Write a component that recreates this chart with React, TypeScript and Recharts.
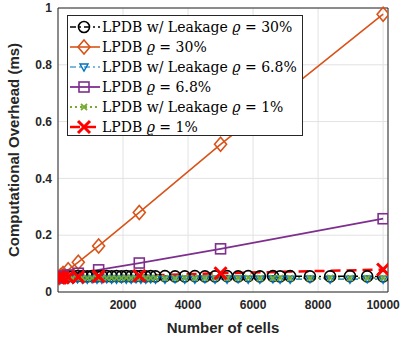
import React from "react";
import { ComposedChart, Line, XAxis, YAxis, CartesianGrid, ReferenceLine } from "recharts";

// LPDB runs: doubling grid of cell counts
const cells = [20, 39, 78, 156, 313, 625, 1250, 2500, 5000, 10000];
const lpdb30 = [0.05, 0.052, 0.057, 0.065, 0.078, 0.105, 0.162, 0.28, 0.52, 0.978];
const lpdb68 = [0.05, 0.051, 0.053, 0.056, 0.06, 0.066, 0.078, 0.102, 0.152, 0.258];
const lpdb1 = [0.05, 0.05, 0.05, 0.051, 0.052, 0.053, 0.055, 0.057, 0.066, 0.079];

// runs with leakage
const leakCells = [
  10, 20, 40, 80, 160, 300, 450, 600, 750, 900, 1050, 1200, 1350, 1500, 1650, 1800, 1950, 2100, 2250, 2400, 2550,
  2700, 2850, 3000, 3290, 3600, 3900, 4210, 4520, 4830, 5200, 5540, 5850, 6210, 6610, 6830, 7140, 7750, 8370, 8980,
  9510, 10000,
];
const leak30 = [
  0.054, 0.055, 0.055, 0.056, 0.055, 0.056, 0.055, 0.056, 0.056, 0.055, 0.056, 0.055, 0.056, 0.056, 0.055, 0.056,
  0.055, 0.056, 0.055, 0.056, 0.056, 0.055, 0.056, 0.055, 0.056, 0.055, 0.055, 0.056, 0.055, 0.055, 0.056, 0.055,
  0.056, 0.055, 0.056, 0.055, 0.056, 0.055, 0.055, 0.056, 0.055, 0.055,
];
const leak68 = [
  0.045, 0.045, 0.046, 0.045, 0.046, 0.045, 0.045, 0.046, 0.045, 0.045, 0.046, 0.045, 0.045, 0.046, 0.045, 0.045,
  0.046, 0.045, 0.045, 0.046, 0.045, 0.045, 0.046, 0.045, 0.045, 0.046, 0.045, 0.045, 0.046, 0.045, 0.045, 0.046,
  0.045, 0.045, 0.046, 0.045, 0.045, 0.046, 0.045, 0.045, 0.046, 0.045,
];
const leak1 = [
  0.049, 0.049, 0.05, 0.049, 0.049, 0.05, 0.049, 0.049, 0.05, 0.049, 0.049, 0.05, 0.049, 0.049, 0.05, 0.049,
  0.049, 0.05, 0.049, 0.049, 0.05, 0.049, 0.049, 0.05, 0.049, 0.049, 0.05, 0.049, 0.049, 0.05, 0.049, 0.049,
  0.05, 0.049, 0.049, 0.05, 0.049, 0.049, 0.05, 0.049, 0.049, 0.05,
];

const xTicks = [2000, 4000, 6000, 8000, 10000];
const yTicks = [0, 0.2, 0.4, 0.6, 0.8, 1];

const zip = (xs: number[], ys: number[]) => xs.map((x, i) => ({ x, y: ys[i] }));

const BLACK = "#000000";
const ORANGE = "#D95319";
const BLUE = "#0072BD";
const PURPLE = "#7E2F8E";
const GREEN = "#77AC30";
const RED = "#FF0000";

type Mk = "circle" | "diamond" | "tri" | "square" | "x" | "bigx";

const marker = (kind: Mk, cx: number, cy: number, key?: React.Key) => {
  switch (kind) {
    case "circle":
      return <circle key={key} cx={cx} cy={cy} r={5.5} fill="none" stroke={BLACK} strokeWidth={1.6} />;
    case "diamond":
      return (
        <polygon
          key={key}
          points={`${cx},${cy - 7} ${cx + 6},${cy} ${cx},${cy + 7} ${cx - 6},${cy}`}
          fill="none"
          stroke={ORANGE}
          strokeWidth={1.6}
        />
      );
    case "tri":
      return (
        <polygon
          key={key}
          points={`${cx - 4},${cy - 3} ${cx + 4},${cy - 3} ${cx},${cy + 4}`}
          fill="none"
          stroke={BLUE}
          strokeWidth={1.4}
        />
      );
    case "square":
      return (
        <rect key={key} x={cx - 5} y={cy - 5} width={10} height={10} fill="none" stroke={PURPLE} strokeWidth={1.6} />
      );
    case "x":
      return (
        <g key={key} stroke={GREEN} strokeWidth={1.8}>
          <line x1={cx - 3} y1={cy - 3} x2={cx + 3} y2={cy + 3} />
          <line x1={cx - 3} y1={cy + 3} x2={cx + 3} y2={cy - 3} />
        </g>
      );
    default:
      return (
        <g key={key} stroke={RED} strokeWidth={3}>
          <line x1={cx - 6} y1={cy - 6} x2={cx + 6} y2={cy + 6} />
          <line x1={cx - 6} y1={cy + 6} x2={cx + 6} y2={cy - 6} />
        </g>
      );
  }
};

const dotOf = (kind: Mk) => (p: any) => {
  if (p.cx == null || p.cy == null) return <g key={p.index} />;
  return marker(kind, p.cx, p.cy, p.index);
};

const series = [
  { name: "w30", label: "LPDB w/ Leakage", pct: "30%", data: zip(leakCells, leak30), color: BLACK, dash: "6 3 2 3", w: 1.5, mk: "circle" as Mk },
  { name: "l30", label: "LPDB", pct: "30%", data: zip(cells, lpdb30), color: ORANGE, dash: undefined, w: 1.6, mk: "diamond" as Mk },
  { name: "w68", label: "LPDB w/ Leakage", pct: "6.8%", data: zip(leakCells, leak68), color: BLUE, dash: "6 3 2 3", w: 1.2, mk: "tri" as Mk },
  { name: "l68", label: "LPDB", pct: "6.8%", data: zip(cells, lpdb68), color: PURPLE, dash: undefined, w: 1.8, mk: "square" as Mk },
  { name: "w1", label: "LPDB w/ Leakage", pct: "1%", data: zip(leakCells, leak1), color: GREEN, dash: "2 3", w: 2, mk: "x" as Mk },
  { name: "l1", label: "LPDB", pct: "1%", data: zip(cells, lpdb1), color: RED, dash: "10 6", w: 2.5, mk: "bigx" as Mk },
];

const SANS = "'Liberation Sans', Arial, sans-serif";
const tickStyle = { fontSize: 12, fontWeight: 700, fill: "#262626", fontFamily: SANS };
const labelStyle = { fontSize: 15, fontWeight: 700, fill: "#262626", fontFamily: SANS };

const LegendBox = () => (
  <div
    style={{
      position: "absolute",
      left: 67,
      top: 15,
      width: 236,
      height: 121,
      boxSizing: "border-box",
      border: "1px solid #262626",
      background: "#fff",
      fontFamily: "'DejaVu Serif', 'Liberation Serif', serif",
      fontSize: 14,
      color: "#000",
    }}
  >
    {series.map((s, i) => (
      <div key={s.name} style={{ position: "absolute", left: 0, top: i * 20 + 0.5, height: 20, display: "flex", alignItems: "center" }}>
        <svg width={34} height={20} style={{ display: "block" }}>
          <line x1={2} y1={10} x2={32} y2={10} stroke={s.color} strokeWidth={s.w} strokeDasharray={s.dash} />
          {marker(s.mk, 16, 10)}
        </svg>
        <span style={{ whiteSpace: "nowrap" }}>
          {s.label} <i>ϱ</i> = {s.pct}
        </span>
      </div>
    ))}
  </div>
);

export default function App() {
  return (
    <div style={{ position: "absolute", left: 0, top: 0, width: 407, height: 340, background: "#fff" }}>
      <ComposedChart width={407} height={340} margin={{ top: 8, right: 19, bottom: 0, left: 0 }}>
        <CartesianGrid stroke="#e2e2e2" />
        <XAxis
          type="number"
          dataKey="x"
          domain={[0, 10150]}
          ticks={xTicks}
          allowDataOverflow
          height={48}
          tick={tickStyle}
          tickLine={false}
          axisLine={{ stroke: "#262626" }}
          label={{ value: "Number of cells", position: "insideBottom", offset: 7, style: labelStyle }}
        />
        <YAxis
          type="number"
          domain={[0, 1]}
          ticks={yTicks}
          width={58}
          tick={tickStyle}
          tickLine={false}
          tickMargin={0}
          axisLine={{ stroke: "#262626" }}
          label={{
            value: "Computational Overhead (ms)",
            angle: -90,
            position: "insideLeft",
            offset: 14,
            style: { ...labelStyle, textAnchor: "middle" },
          }}
        />
        <ReferenceLine y={1} stroke="#262626" />
        <ReferenceLine x={10150} stroke="#262626" />
        {series.map((s) => (
          <Line
            key={s.name}
            data={s.data}
            dataKey="y"
            type="linear"
            stroke={s.color}
            strokeWidth={s.w}
            strokeDasharray={s.dash}
            dot={dotOf(s.mk)}
            activeDot={false}
            isAnimationActive={false}
          />
        ))}
      </ComposedChart>
      <LegendBox />
    </div>
  );
}
